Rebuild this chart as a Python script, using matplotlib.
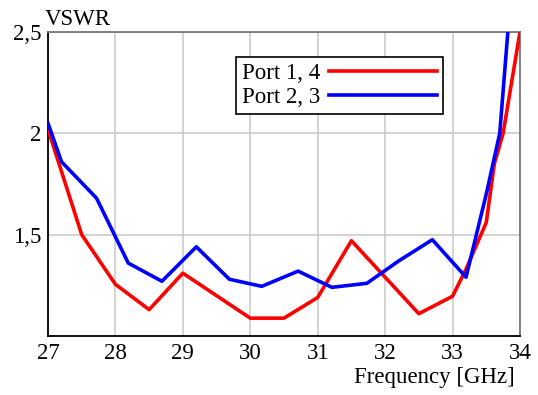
import matplotlib
matplotlib.use("Agg")
import matplotlib.pyplot as plt

# Port 1, 4
freq_14 = [27.0, 27.5, 28.0, 28.5, 29.0, 30.0, 30.5, 31.0, 31.5, 32.5, 33.0, 33.2, 33.5, 33.62, 33.75, 34.0]
vswr_14 = [2.02, 1.50, 1.255, 1.13, 1.31, 1.088, 1.088, 1.19, 1.47, 1.11, 1.196, 1.33, 1.56, 1.85, 2.0, 2.5]

# Port 2, 3
freq_23 = [27.0, 27.2, 27.72, 28.19, 28.69, 29.2, 29.69, 30.17, 30.71, 31.21, 31.73, 32.2, 32.7, 33.2, 33.5, 33.7, 33.82, 34.0]
vswr_23 = [2.05, 1.86, 1.68, 1.36, 1.27, 1.44, 1.28, 1.245, 1.32, 1.24, 1.26, 1.37, 1.475, 1.29, 1.70, 2.0, 2.5, 3.4]

x_ticks = [27, 28, 29, 30, 31, 32, 33, 34]
y_ticks = [1.5, 2.0, 2.5]
y_tick_labels = ["1,5", "2", "2,5"]

plt.rcParams["font.family"] = ["Liberation Serif", "DejaVu Serif"]

fig = plt.figure(figsize=(5.38, 3.95), dpi=100)
ax = fig.add_axes([0.0892, 0.1494, 0.8773, 0.7696])

ax.plot(freq_14, vswr_14, color="#ff0000", lw=2.6, label="Port 1, 4", zorder=3)
ax.plot(freq_23, vswr_23, color="#0000ff", lw=2.6, label="Port 2, 3", zorder=4)

ax.set_xlim(27, 34)
ax.set_ylim(1.0, 2.5)
ax.set_xticks(x_ticks)
ax.set_yticks(y_ticks)
ax.set_yticklabels(y_tick_labels)
ax.tick_params(length=0, labelsize=16.5, pad=5)
ax.grid(True, color="#c8c8c8", lw=1.1)
ax.set_axisbelow(True)

for side in ["left", "bottom"]:
    ax.spines[side].set_color("black")
    ax.spines[side].set_linewidth(1.3)
for side in ["top", "right"]:
    ax.spines[side].set_color("#777777")
    ax.spines[side].set_linewidth(1.3)

fig.text(45 / 538, 1 - 25 / 395, "VSWR", fontsize=16.5, ha="left", va="baseline")
fig.text(515 / 538, 1 - 378 / 395, "Frequency [GHz]", fontsize=16.5, ha="right", va="center")

leg = ax.legend(loc="upper left", bbox_to_anchor=((236 - 48) / 472, (336 - 57) / 304),
                frameon=True, fancybox=False, edgecolor="black", fontsize=16.5,
                markerfirst=False, handlelength=4.7, handletextpad=0.4,
                borderpad=0.25, labelspacing=0.15, borderaxespad=0)
leg.get_frame().set_linewidth(1.2)
leg.get_frame().set_alpha(1)

fig.savefig("out.png", dpi=100)
